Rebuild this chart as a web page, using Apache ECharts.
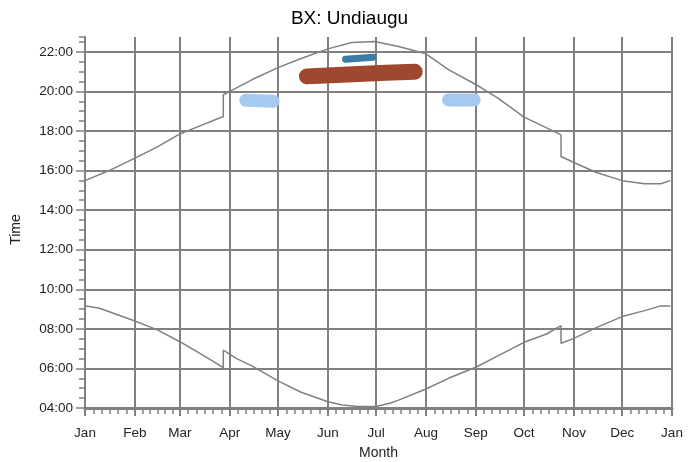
<!DOCTYPE html>
<html>
<head>
<meta charset="utf-8">
<script src="https://cdn.jsdelivr.net/npm/echarts@6/dist/echarts.min.js"></script>
<style>
  html, body { margin: 0; padding: 0; background: #fff; }
  #mainChart { width: 699px; height: 462px; }
</style>
</head>
<body>
<div id="mainChart"></div>
<script>
var year = 2023;
var monthNames = ['Jan','Feb','Mar','Apr','May','Jun','Jul','Aug','Sep','Oct','Nov','Dec'];

// sunset (upper curve), hours of day
var sunsetDates = ['01-01','01-16','02-01','02-15','03-01','03-15','03-28','03-28','04-01','04-15','05-01','05-15',
                   '06-01','06-16','06-30','07-15','08-01','08-15','09-01','09-08','09-15','10-01','10-15','10-24','10-24',
                   '11-01','11-15','12-01','12-15','12-25','12-31'];
var sunsetTimes = [15.49,16.0,16.63,17.2,17.85,18.31,18.73,19.83,20.0,20.6,21.2,21.65,
                   22.15,22.47,22.52,22.27,21.9,21.1,20.35,20.0,19.65,18.7,18.16,17.8,16.71,
                   16.41,15.9,15.49,15.33,15.33,15.49];

// sunrise (lower curve)
var sunriseDates = ['01-01','01-10','02-01','02-15','03-01','03-15','03-28','03-28','04-05','04-15','05-01','05-15',
                    '06-01','06-10','06-20','07-01','07-10','07-15','08-01','08-15','09-01','09-15','10-01','10-15',
                    '10-24','10-24','11-01','11-15','12-01','12-15','12-25','12-31'];
var sunriseTimes = [9.17,9.04,8.40,7.95,7.35,6.68,6.04,6.93,6.51,6.12,5.37,4.81,
                    4.32,4.15,4.07,4.08,4.25,4.4,4.96,5.5,6.06,6.65,7.32,7.74,
                    8.16,7.27,7.52,8.06,8.62,8.92,9.16,9.16];

// observation clusters
var springDates = ['04-11','04-28'];   var springTimes = [19.55, 19.5];
var autumnDates = ['08-15','08-31'];   var autumnTimes = [19.57, 19.57];
var brownDates  = ['05-19','06-10','07-07','07-25'];  var brownTimes = [20.76, 20.84, 20.94, 20.99];
var darkDates   = ['06-12','06-29'];   var darkTimes = [21.63, 21.73];

var yTicks = [4, 6, 8, 10, 12, 14, 16, 18, 20, 22];

function toTime(md) {
    var p = md.split('-');
    return Date.UTC(year, parseInt(p[0], 10) - 1, parseInt(p[1], 10));
}
function pairs(dates, vals) {
    return dates.map(function (d, i) { return [toTime(d), vals[i]]; });
}
function hhmm(v) {
    return (v < 10 ? '0' : '') + v + ':00';
}

var grey = '#808080';
var font = 'Liberation Sans, Arial, sans-serif';

function curve(name, data) {
    return { name: name, type: 'line', data: data, showSymbol: false, symbol: 'none',
             lineStyle: { color: grey, width: 1.5 }, z: 3, animation: false };
}
function blob(name, data, color, width) {
    return { name: name, type: 'line', data: data, showSymbol: false, symbol: 'none', clip: false,
             lineStyle: { color: color, width: width, cap: 'round', join: 'round' }, z: 4, animation: false };
}

var chart = echarts.init(document.getElementById('mainChart'));

var option = {
    useUTC: true,
    animation: false,
    title: {
        text: 'BX: Undiaugu',
        left: 'center',
        top: 4,
        textStyle: { fontFamily: font, fontSize: 19, fontWeight: 'normal', color: '#000' }
    },
    grid: { left: 85, right: 27, top: 37, bottom: 54, outerBoundsMode: 'none', containLabel: false },
    xAxis: {
        type: 'time',
        min: Date.UTC(year, 0, 1),
        max: Date.UTC(year + 1, 0, 1),
        splitNumber: 12,
        name: 'Month',
        nameLocation: 'middle',
        nameGap: 38,
        nameTextStyle: { fontFamily: font, fontSize: 14, color: '#222' },
        axisLine: { lineStyle: { color: grey, width: 3 } },
        axisTick: { show: true, length: 8, lineStyle: { color: grey, width: 2 } },
        minorTick: { show: true, splitNumber: 6, length: 6, lineStyle: { color: grey, width: 1.5 } },
        axisLabel: {
            margin: 18,
            fontFamily: font, fontSize: 13.5, color: '#222',
            showMinLabel: true, showMaxLabel: true,
            formatter: function (v) { return monthNames[new Date(v).getUTCMonth()]; }
        },
        splitLine: { show: true, lineStyle: { color: grey, width: 2 } }
    },
    yAxis: [{
        type: 'value',
        min: 4,
        max: 22.75,
        interval: 2,
        name: 'Time',
        nameLocation: 'middle',
        nameGap: 62,
        nameTextStyle: { fontFamily: font, fontSize: 14, color: '#222', padding: [0, 14, 0, 0] },
        axisLine: { show: true, lineStyle: { color: grey, width: 2 } },
        axisTick: { show: true, length: 9, lineStyle: { color: grey, width: 1.5 } },
        axisLabel: {
            margin: 12, fontFamily: font, fontSize: 13.5, color: '#222',
            showMaxLabel: false,
            formatter: function (v) { return yTicks.indexOf(v) >= 0 ? hhmm(v) : ''; }
        },
        splitLine: { show: true, showMaxLine: false, lineStyle: { color: grey, width: 2 } }
    }, {
        type: 'value',
        min: 4,
        max: 22.75,
        interval: 0.5,
        position: 'left',
        axisLine: { show: false },
        axisTick: { show: true, length: 6, lineStyle: { color: grey, width: 1.5 } },
        axisLabel: { show: false },
        splitLine: { show: false }
    }],
    series: [
        curve('Sunset', pairs(sunsetDates, sunsetTimes)),
        curve('Sunrise', pairs(sunriseDates, sunriseTimes)),
        blob('Spring', pairs(springDates, springTimes), '#a6c9f0', 13),
        blob('Autumn', pairs(autumnDates, autumnTimes), '#a6c9f0', 13),
        blob('Summer', pairs(brownDates, brownTimes), '#a0482f', 16),
        blob('Midsummer', pairs(darkDates, darkTimes), '#3a7ca5', 7)
    ]
};

chart.setOption(option);
</script>
</body>
</html>
